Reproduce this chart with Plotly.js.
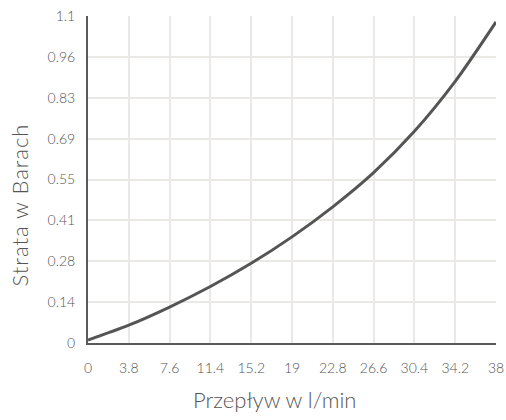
<!DOCTYPE html>
<html>
<head>
<meta charset="utf-8">
<script src="https://cdn.plot.ly/plotly-3.0.1.min.js"></script>
<style>html,body{margin:0;padding:0;background:#fff;}#chart{width:506px;height:420px;}</style>
</head>
<body>
<div id="chart"></div>
<script>
const flow = [0, 3.8, 7.6, 11.4, 15.2, 19, 22.8, 26.6, 30.4, 34.2, 38];
const loss = [0.01, 0.06, 0.121, 0.19, 0.268, 0.357, 0.458, 0.573, 0.712, 0.88, 1.08];
const xTickVals = [0, 3.8, 7.6, 11.4, 15.2, 19, 22.8, 26.6, 30.4, 34.2, 38];
const xTickText = ['0', '3.8', '7.6', '11.4', '15.2', '19', '22.8', '26.6', '30.4', '34.2', '38'];
const yTickVals = [0, 0.1375, 0.275, 0.4125, 0.55, 0.6875, 0.825, 0.9625, 1.1];
const yTickText = ['0', '0.14', '0.28', '0.41', '0.55', '0.69', '0.83', '0.96', '1.1'];
const xTitle = 'Przepływ w l/min';
const yTitle = 'Strata w Barach';

const fontFam = 'Lato, "Open Sans", sans-serif';
const txtCol = '#555555';
Plotly.newPlot('chart', [{
  x: flow, y: loss, type: 'scatter', mode: 'lines',
  line: {color: '#555555', width: 3, shape: 'spline', smoothing: 0.8},
  hoverinfo: 'skip'
}], {
  width: 506, height: 420,
  margin: {l: 88, r: 10, t: 16, b: 77},
  paper_bgcolor: '#ffffff', plot_bgcolor: '#ffffff',
  showlegend: false,
  font: {family: fontFam, color: txtCol, size: 14, weight: 300},
  xaxis: {
    range: [0, 38], tickvals: xTickVals, ticktext: xTickText,
    showgrid: true, gridcolor: '#ebe9e6', gridwidth: 2,
    zeroline: false, showline: true, linecolor: '#5a5a5a', linewidth: 2,
    ticks: '', ticklabelstandoff: 11,
    tickfont: {family: fontFam, size: 14, color: txtCol, weight: 300}
  },
  yaxis: {
    range: [0, 1.1], tickvals: yTickVals, ticktext: yTickText,
    showgrid: true, gridcolor: '#ebe9e6', gridwidth: 2,
    zeroline: false, showline: true, linecolor: '#5a5a5a', linewidth: 2,
    ticks: '', ticklabelstandoff: 8,
    tickfont: {family: fontFam, size: 14, color: txtCol, weight: 300}
  },
  annotations: [
    {text: xTitle, xref: 'paper', yref: 'paper', x: 0.458, y: -0.172,
     xanchor: 'center', yanchor: 'middle', showarrow: false,
     font: {family: fontFam, size: 22, color: txtCol, weight: 300}},
    {text: '<span style="letter-spacing:1px">' + yTitle + '</span>', xref: 'paper', yref: 'paper',
     x: -0.168, y: 0.422, textangle: -90,
     xanchor: 'center', yanchor: 'middle', showarrow: false,
     font: {family: fontFam, size: 22, color: txtCol, weight: 300}}
  ]
}, {staticPlot: true, displayModeBar: false});
</script>
</body>
</html>
